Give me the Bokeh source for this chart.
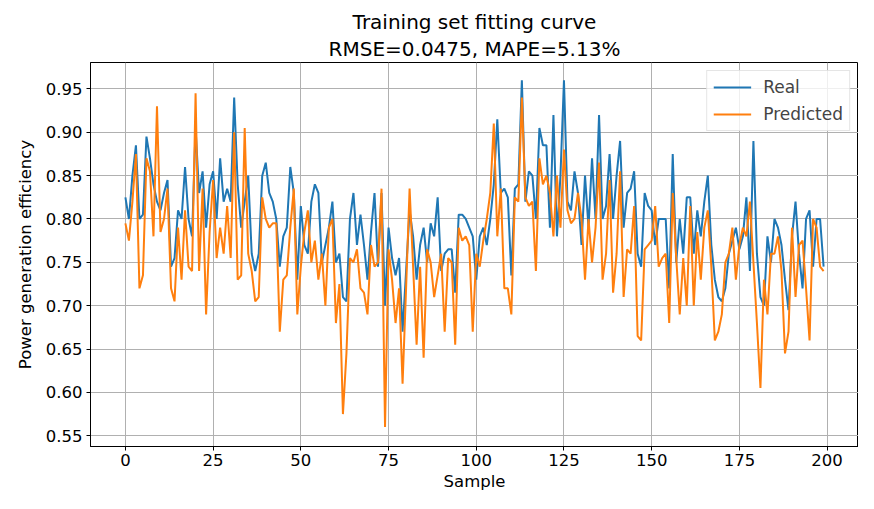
from bokeh.plotting import figure
from bokeh.models import Range1d, Legend, LegendItem, FixedTicker, Title, CustomJSTickFormatter
from bokeh.embed import file_html
from bokeh.resources import INLINE

title_lines = ["Training set fitting curve", "RMSE=0.0475, MAPE=5.13%"]
x_label = "Sample"
y_label = "Power generation efficiency"
x_ticks = [0, 25, 50, 75, 100, 125, 150, 175, 200]
y_ticks = [0.55, 0.60, 0.65, 0.70, 0.75, 0.80, 0.85, 0.90, 0.95]

real = [
    0.825, 0.80, 0.85, 0.885, 0.80, 0.805, 0.895, 0.87, 0.84, 0.82,
    0.81, 0.83, 0.845, 0.745, 0.755, 0.81, 0.80, 0.86, 0.80, 0.78,
    0.905, 0.83, 0.855, 0.79, 0.84, 0.855, 0.80, 0.87, 0.82, 0.835,
    0.82, 0.94, 0.84, 0.79, 0.82, 0.85, 0.76, 0.74, 0.76, 0.85,
    0.865, 0.83, 0.82, 0.80, 0.745, 0.78, 0.79, 0.86, 0.83, 0.73,
    0.815, 0.77, 0.76, 0.82, 0.84, 0.83, 0.75, 0.77, 0.79, 0.82,
    0.75, 0.76, 0.71, 0.705, 0.80, 0.83, 0.77, 0.805, 0.77, 0.73,
    0.785, 0.83, 0.745, 0.83, 0.70, 0.79, 0.755, 0.735, 0.755, 0.67,
    0.74, 0.81, 0.78, 0.73, 0.77, 0.79, 0.75, 0.795, 0.78, 0.825,
    0.74, 0.76, 0.765, 0.765, 0.715, 0.805, 0.805, 0.80, 0.79, 0.78,
    0.73, 0.78, 0.79, 0.77, 0.80, 0.84, 0.915, 0.83, 0.835, 0.825,
    0.735, 0.835, 0.84, 0.96, 0.82, 0.855, 0.85, 0.80, 0.905, 0.885,
    0.885, 0.79, 0.92, 0.78, 0.85, 0.96, 0.82, 0.81, 0.855, 0.83,
    0.77, 0.85, 0.79, 0.87, 0.80, 0.92, 0.80, 0.815, 0.875, 0.80,
    0.85, 0.89, 0.79, 0.83, 0.835, 0.855, 0.76, 0.745, 0.83, 0.815,
    0.81, 0.77, 0.80, 0.80, 0.80, 0.72, 0.875, 0.75, 0.80, 0.76,
    0.825, 0.825, 0.76, 0.81, 0.78, 0.82, 0.85, 0.77, 0.73, 0.71,
    0.705, 0.72, 0.76, 0.775, 0.79, 0.765, 0.78, 0.825, 0.74, 0.89,
    0.76, 0.71, 0.70, 0.78, 0.75, 0.80, 0.79, 0.77, 0.73, 0.695,
    0.78, 0.82, 0.76, 0.72, 0.80, 0.81, 0.745, 0.80, 0.80, 0.745,
]

predicted = [
    0.795, 0.775, 0.82, 0.875, 0.72, 0.735, 0.87, 0.855, 0.78, 0.93,
    0.785, 0.80, 0.835, 0.72, 0.705, 0.79, 0.73, 0.81, 0.745, 0.74,
    0.945, 0.74, 0.835, 0.69, 0.785, 0.845, 0.755, 0.79, 0.76, 0.815,
    0.755, 0.90, 0.73, 0.735, 0.905, 0.76, 0.74, 0.705, 0.71, 0.825,
    0.80, 0.79, 0.795, 0.795, 0.67, 0.73, 0.735, 0.79, 0.835, 0.69,
    0.745, 0.785, 0.81, 0.75, 0.775, 0.73, 0.76, 0.70, 0.79, 0.80,
    0.68, 0.725, 0.575, 0.645, 0.755, 0.75, 0.765, 0.72, 0.715, 0.69,
    0.77, 0.745, 0.75, 0.835, 0.56, 0.765, 0.73, 0.68, 0.72, 0.61,
    0.72, 0.835, 0.745, 0.655, 0.745, 0.64, 0.765, 0.75, 0.71, 0.735,
    0.76, 0.67, 0.755, 0.75, 0.655, 0.79, 0.775, 0.78, 0.77, 0.67,
    0.76, 0.745, 0.775, 0.80, 0.83, 0.91, 0.78, 0.835, 0.72, 0.72,
    0.69, 0.825, 0.82, 0.94, 0.825, 0.815, 0.82, 0.74, 0.87, 0.84,
    0.85, 0.83, 0.78, 0.85, 0.79, 0.88, 0.81, 0.795, 0.80, 0.83,
    0.80, 0.73, 0.80, 0.75, 0.79, 0.865, 0.73, 0.76, 0.845, 0.715,
    0.76, 0.855, 0.71, 0.765, 0.76, 0.815, 0.665, 0.66, 0.765, 0.77,
    0.775, 0.815, 0.745, 0.755, 0.76, 0.68, 0.83, 0.755, 0.69, 0.755,
    0.70, 0.815, 0.70, 0.785, 0.73, 0.79, 0.81, 0.745, 0.66, 0.67,
    0.69, 0.75, 0.76, 0.79, 0.73, 0.77, 0.79, 0.78, 0.82, 0.75,
    0.68, 0.605, 0.73, 0.69, 0.76, 0.76, 0.78, 0.74, 0.645, 0.67,
    0.79, 0.71, 0.77, 0.775, 0.72, 0.66, 0.80, 0.79, 0.745, 0.74,
]

samples = list(range(len(real)))

FONT = "DejaVu Sans"
TXT = "16.5px"

p = figure(width=858, height=493, output_backend="svg", toolbar_location=None,
           x_range=Range1d(-9.95, 208.95), y_range=Range1d(0.5376, 0.9805),
           min_border_left=90, min_border_right=0, min_border_top=62, min_border_bottom=44)

# the main title is the outer line; the added Title sits next to the frame
p.title.text = title_lines[0]
p.title.align = "center"
p.title.text_font = FONT
p.title.text_font_size = "20px"
p.title.text_font_style = "normal"
p.title.text_color = "black"
p.title.standoff = 0
p.add_layout(Title(text=title_lines[1], align="center", text_font=FONT,
                   text_font_size="20px", text_font_style="normal",
                   text_color="black", standoff=3), "above")

p.outline_line_color = "black"
p.outline_line_width = 1
p.background_fill_color = "white"
p.border_fill_color = "white"

for ax in (p.xaxis, p.yaxis):
    ax.axis_line_color = "black"
    ax.major_tick_line_color = "black"
    ax.major_tick_out = 4
    ax.major_tick_in = 0
    ax.minor_tick_out = 0
    ax.minor_tick_in = 0
    ax.major_label_text_font = FONT
    ax.major_label_text_font_size = TXT
    ax.major_label_text_color = "black"
    ax.axis_label_text_font = FONT
    ax.axis_label_text_font_size = TXT
    ax.axis_label_text_font_style = "normal"
    ax.axis_label_text_color = "black"

p.xaxis.ticker = FixedTicker(ticks=x_ticks)
p.yaxis.ticker = FixedTicker(ticks=y_ticks)
p.yaxis.formatter = CustomJSTickFormatter(code="return tick.toFixed(2);")
p.xaxis.axis_label = x_label
p.yaxis.axis_label = y_label
p.xaxis.major_label_standoff = 3
p.yaxis.major_label_standoff = 4
p.xaxis.axis_label_standoff = 3
p.yaxis.axis_label_standoff = 8

p.xgrid.grid_line_color = "#b0b0b0"
p.ygrid.grid_line_color = "#b0b0b0"
p.xgrid.grid_line_width = 1
p.ygrid.grid_line_width = 1
p.xgrid.ticker = FixedTicker(ticks=x_ticks)
p.ygrid.ticker = FixedTicker(ticks=y_ticks)

r1 = p.line(samples, real, line_color="#1f77b4", line_width=2)
r2 = p.line(samples, predicted, line_color="#ff7f0e", line_width=2)

legend = Legend(items=[LegendItem(label="Real", renderers=[r1]),
                       LegendItem(label="Predicted", renderers=[r2])],
                location="top_right")
legend.label_text_font = FONT
legend.label_text_font_size = "17px"
legend.label_height = 20
legend.glyph_height = 20
legend.glyph_width = 38
legend.label_standoff = 12
legend.spacing = 7
legend.padding = 6
legend.margin = 8
legend.border_line_color = "#cccccc"
legend.border_line_width = 1
legend.background_fill_alpha = 0.8
p.add_layout(legend)

open("out.html", "w").write(file_html(p, INLINE))
